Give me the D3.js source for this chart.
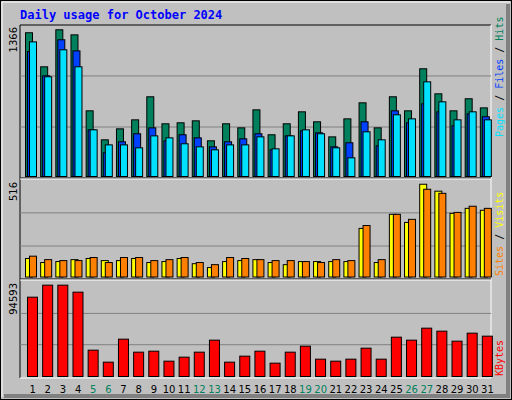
<!DOCTYPE html>
<html><head><meta charset="utf-8">
<script src="https://cdn.jsdelivr.net/npm/d3@7"></script>
<style>body{margin:0;background:#fff}</style>
</head><body>
<svg id="chart" width="512" height="400"></svg>
<script>
// Daily usage, October 2024
const days = d3.range(1, 32);
const weekend = [5, 6, 12, 13, 19, 20, 26, 27];
const hits  = [1309,999,1336,1290,598,334,434,516,726,480,489,507,325,480,443,607,380,480,589,498,361,525,671,443,726,598,981,753,598,708,625];
const files = [1138,917,1245,1144,425,216,316,389,443,325,380,352,270,316,343,389,243,370,416,398,270,307,498,280,598,489,662,589,462,571,544];
const pages = [1226,908,1154,999,425,288,288,261,370,352,298,270,243,288,288,361,252,370,425,389,261,170,407,334,562,525,862,680,516,589,516];
const visits = [96,75,80,90,96,85,85,96,75,80,96,69,49,80,85,90,75,64,80,80,80,80,252,75,325,283,481,445,330,356,346];
const sites  = [108,90,85,85,101,75,101,101,85,90,101,75,64,101,96,90,85,85,80,75,90,85,267,90,325,299,455,434,335,367,356];
const kbytes = [75800,87270,87270,80580,25160,13700,35670,23250,24200,14650,18470,23250,34720,13700,19430,24200,12740,23250,28980,16560,14650,16560,27070,16560,37580,34720,46180,43320,33760,41400,38540];
const maxHits = 1366, maxVisits = 516, maxKbytes = 94593;

const svg = d3.select("#chart");
const C = {hits:"#00805c", files:"#0040ff", pages:"#00e0ff", visits:"#ffff00", sites:"#ff8000", kbytes:"#ff0000"};

// frame
svg.append("rect").attr("x",0.5).attr("y",0.5).attr("width",511).attr("height",399).attr("fill","#c0c0c0").attr("stroke","#000");
svg.append("path").attr("d","M508,4V396H4").attr("fill","none").attr("stroke","#808080").attr("stroke-width",4);
svg.append("path").attr("d","M2,397V2H510").attr("fill","none").attr("stroke","#fff").attr("stroke-width",1);

svg.append("text").attr("x",20).attr("y",19).text("Daily usage for October 2024")
  .attr("font-family","DejaVu Sans Mono").attr("font-weight","bold").attr("font-size",12).attr("fill","#0000ff");

const x = d3.scaleBand().domain(days).range([20,490]).paddingInner(0);
const L = 20, R = 491;

// plot frame
svg.append("rect").attr("x",L).attr("y",25).attr("width",R-L).attr("height",353).attr("fill","#c0c0c0");
svg.append("path").attr("d",`M${L},378V25H${R}`).attr("fill","none").attr("stroke","#000");
svg.append("path").attr("d",`M${R},25V378H${L}`).attr("fill","none").attr("stroke","#fff");

function panel(y0, y1, max, grid) {
  const y = d3.scaleLinear().domain([0,max]).range([y1,y0]);
  svg.append("g").selectAll("line").data(grid).join("line")
    .attr("x1",L).attr("x2",R).attr("y1",d=>y(d)).attr("y2",d=>y(d)).attr("stroke","#808080");
  return y;
}
const yTop = panel(26,176,maxHits,[446,911]);
const yMid = panel(177,276.5,maxVisits,[158,330]);
const yBot = panel(277,376,maxKbytes,[29900,59800]);
svg.append("line").attr("x1",L).attr("x2",R).attr("y1",178).attr("y2",178).attr("stroke","#000");
svg.append("line").attr("x1",L).attr("x2",R).attr("y1",179).attr("y2",179).attr("stroke","#fff");
svg.append("line").attr("x1",L).attr("x2",R).attr("y1",279).attr("y2",279).attr("stroke","#000");
svg.append("line").attr("x1",L).attr("x2",R).attr("y1",280).attr("y2",280).attr("stroke","#fff");

function bars(vals, y, off, w, color) {
  svg.append("g").selectAll("rect").data(vals).join("rect")
    .attr("x",(d,i)=>x(days[i])+off+0.5).attr("width",w)
    .attr("y",d=>y(d)+0.5).attr("height",d=>y(0)-y(d))
    .attr("fill",color).attr("stroke","#000");
}
bars(hits, yTop, 5, 7, C.hits);
bars(files, yTop, 7, 7, C.files);
bars(pages, yTop, 9, 7, C.pages);
bars(visits, yMid, 5, 7, C.visits);
bars(sites, yMid, 9, 7, C.sites);
bars(kbytes, yBot, 7, 10, C.kbytes);

// day labels
svg.append("g").selectAll("text").data(days).join("text")
  .attr("x",d=>x(d)+x.bandwidth()/2+5).attr("y",393).attr("text-anchor","middle")
  .attr("font-family","DejaVu Sans").attr("font-size",10)
  .attr("fill",d=>weekend.includes(d)?"#00805c":"#000").text(d=>d);

// max labels
function vlabel(txt, xx, yy) {
  svg.append("text").attr("transform",`translate(${xx},${yy}) rotate(-90)`).attr("text-anchor","end")
    .attr("font-family","DejaVu Sans").attr("font-size",10).text(txt);
}
vlabel(maxHits, 17, 27);
vlabel(maxVisits, 17, 182);
vlabel(maxKbytes, 17, 283);

function rlabel(parts, yy) {
  const t = svg.append("text").attr("transform",`translate(503,${yy}) rotate(-90)`)
    .attr("font-family","DejaVu Sans Mono").attr("font-size",10);
  parts.forEach(([s,c])=>t.append("tspan").attr("fill",c).text(s));
}
rlabel([["Pages",C.pages],[" / ","#000"],["Files",C.files],[" / ","#000"],["Hits",C.hits]], 137);
rlabel([["Sites",C.sites],[" / ","#000"],["Visits",C.visits]], 276);
rlabel([["KBytes",C.kbytes]], 376);
</script>
</body></html>
